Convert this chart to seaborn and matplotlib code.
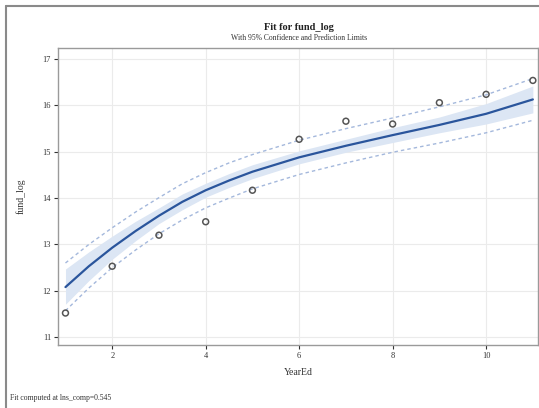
import matplotlib
matplotlib.use("Agg")
import matplotlib.pyplot as plt
import seaborn as sns
import pandas as pd
from matplotlib.lines import Line2D

# ---- data ----
year_obs = [1, 2, 3, 4, 5, 6, 7, 8, 9, 10, 11]
fund_obs = [11.52, 12.53, 13.20, 13.49, 14.17, 15.27, 15.66, 15.60, 16.06, 16.24, 16.54]

year_fit = [1, 1.5, 2, 2.5, 3, 3.5, 4, 4.5, 5, 6, 7, 8, 9, 10, 11]
fit_vals = [12.08, 12.53, 12.93, 13.29, 13.62, 13.92, 14.17, 14.38, 14.57, 14.88, 15.13, 15.36, 15.58, 15.82, 16.13]
ci_lower = [11.71, 12.22, 12.68, 13.08, 13.45, 13.75, 14.02, 14.23, 14.42, 14.74, 14.99, 15.20, 15.41, 15.60, 15.84]
ci_upper = [12.47, 12.84, 13.18, 13.50, 13.79, 14.09, 14.32, 14.53, 14.72, 15.02, 15.27, 15.52, 15.75, 16.04, 16.42]
pi_lower = [11.57, 12.06, 12.50, 12.88, 13.23, 13.53, 13.79, 14.00, 14.20, 14.51, 14.76, 14.99, 15.19, 15.41, 15.68]
pi_upper = [12.60, 13.00, 13.36, 13.70, 14.01, 14.31, 14.55, 14.76, 14.94, 15.25, 15.50, 15.73, 15.97, 16.23, 16.58]

x_ticks = [2, 4, 6, 8, 10]
y_ticks = [11, 12, 13, 14, 15, 16, 17]

title = "Fit for fund_log"
subtitle = "With 95% Confidence and Prediction Limits"
x_label = "YearEd"
y_label = "fund_log"
footnote = "Fit computed at lns_comp=0.545"

sns.set_theme(style="whitegrid")
plt.rcParams['font.family'] = ['Liberation Serif', 'DejaVu Serif']

obs = pd.DataFrame({"x": year_obs, "y": fund_obs})
fit = pd.DataFrame({"x": year_fit, "fit": fit_vals, "cil": ci_lower, "ciu": ci_upper,
                    "pil": pi_lower, "piu": pi_upper})

fig = plt.figure(figsize=(5.39, 4.08), dpi=100)
ax = fig.add_axes([58/539, 63/408, 480/539, 297/408])

ax.fill_between(fit["x"], fit["cil"], fit["ciu"], color="#dce6f4", lw=0, zorder=1)
sns.lineplot(data=fit, x="x", y="pil", ax=ax, color="#a4b8dc", lw=1.0,
             linestyle=(0, (2.5, 2.2)), zorder=2)
sns.lineplot(data=fit, x="x", y="piu", ax=ax, color="#a4b8dc", lw=1.0,
             linestyle=(0, (2.5, 2.2)), zorder=2)
sns.lineplot(data=fit, x="x", y="fit", ax=ax, color="#2a559c", lw=1.6, zorder=3)
sns.scatterplot(data=obs, x="x", y="y", ax=ax, marker="o", s=18,
                facecolor="none", edgecolor="#555555", linewidth=1.1, zorder=4)

ax.set_xlim(0.84, 11.11)
ax.set_ylim(10.83, 17.24)
ax.set_xticks(x_ticks)
ax.set_yticks(y_ticks)
ax.tick_params(axis="both", labelsize=6, colors="#333333", length=3, width=0.8,
               direction="out", pad=2)
ax.tick_params(axis="both", which="both", bottom=True, left=True)
ax.grid(True, color="#ebebeb", lw=0.8)
for s in ax.spines.values():
    s.set_color("#9a9a9a")
    s.set_linewidth(1.0)
ax.set_xlabel(x_label, fontsize=7, color="#333333", labelpad=6)
ax.set_ylabel(y_label, fontsize=7, color="#333333", labelpad=12)

fig.text(0.555, 1 - 27/408, title, ha="center", va="center", fontsize=7.5,
         fontweight="bold", color="#222222")
fig.text(0.555, 1 - 38/408, subtitle, ha="center", va="center", fontsize=5.5,
         color="#333333")
fig.text(10/539, 1 - 398/408, footnote, ha="left", va="center", fontsize=5.5,
         color="#333333")

# outer frame (left and top edges visible)
fig.add_artist(Line2D([6/539, 6/539], [0, 1 - 6/408], transform=fig.transFigure,
                      color="#8a8a8a", lw=1.5))
fig.add_artist(Line2D([6/539, 1], [1 - 6/408, 1 - 6/408], transform=fig.transFigure,
                      color="#8a8a8a", lw=1.5))

fig.savefig("out.png", dpi=100)
